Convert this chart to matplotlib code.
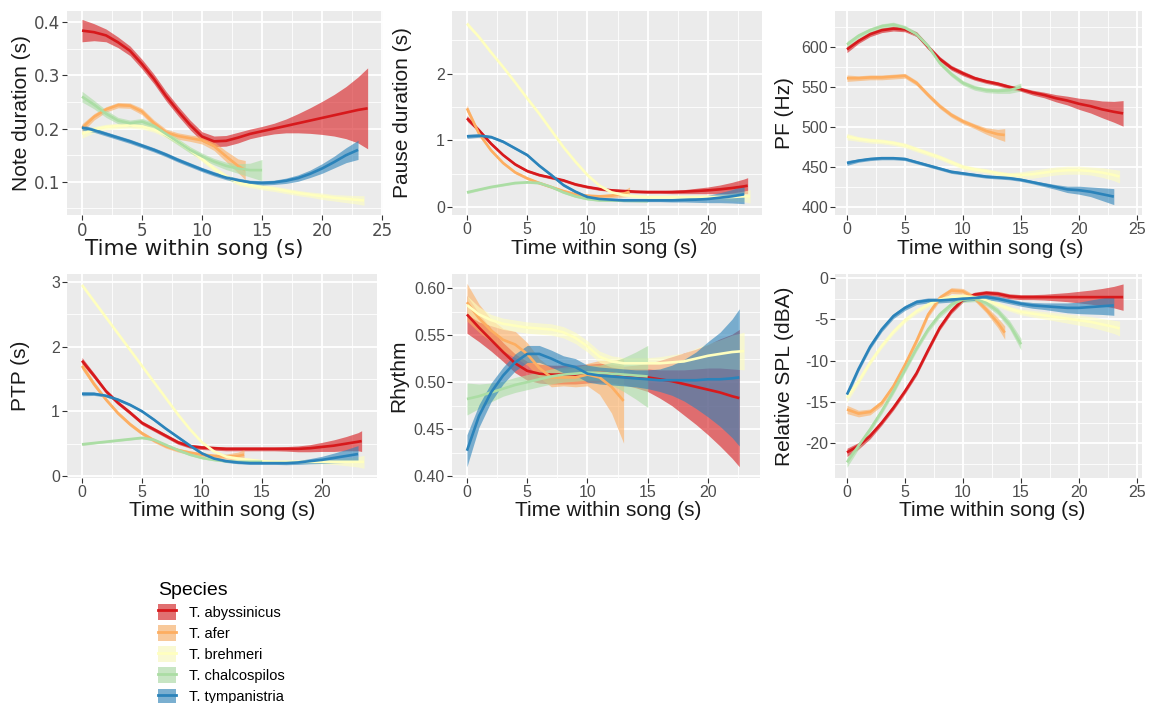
import matplotlib
matplotlib.use("Agg")
import matplotlib.pyplot as plt
from matplotlib.patches import Patch
from matplotlib.lines import Line2D
from matplotlib.legend_handler import HandlerTuple
from matplotlib.ticker import MultipleLocator, FixedLocator
import numpy as np

plt.rcParams["font.family"] = ["Liberation Sans", "DejaVu Sans"]
plt.rcParams["axes.unicode_minus"] = False

SPECIES = ["T. abyssinicus", "T. afer", "T. brehmeri", "T. chalcospilos", "T. tympanistria"]
COLORS = ["#D7191C", "#FDAE61", "#FFFFBF", "#ABDDA4", "#2B83BA"]

# time grids (s) at which the smooths were read
T_ABY = list(range(24)) + [23.8]
T_ABY_GAP = list(range(24)) + [23.3]
T_ABY_RHY = list(range(23)) + [22.6]
T_AFE = list(range(14)) + [13.6]
T_AFE_GAP = list(range(14)) + [13.5]
T_AFE_RHY = list(range(14))
T_BRE = list(range(24)) + [23.5]
T_BRE_RHY = list(range(24))
T_CHA = list(range(16))
T_TYM = list(range(24))
T_TYM_RHY = list(range(23)) + [22.6]

# --- Note duration (s): fit, half-width of CI
NOTE_ABY = [0.384, 0.381, 0.375, 0.362, 0.346, 0.321, 0.293, 0.261, 0.233, 0.207, 0.185, 0.176, 0.177,
            0.183, 0.19, 0.195, 0.2, 0.205, 0.21, 0.215, 0.22, 0.225, 0.23, 0.235, 0.238]
NOTE_ABY_CI = [0.021, 0.016, 0.012, 0.01, 0.009, 0.009, 0.009, 0.009, 0.009, 0.009, 0.009, 0.01, 0.01,
               0.01, 0.009, 0.009, 0.01, 0.013, 0.018, 0.024, 0.031, 0.039, 0.049, 0.062, 0.076]
NOTE_AFE = [0.201, 0.222, 0.236, 0.244, 0.243, 0.232, 0.21, 0.193, 0.186, 0.182, 0.178, 0.167, 0.148, 0.13, 0.122]
NOTE_AFE_CI = [0.008, 0.006, 0.005, 0.005, 0.005, 0.006, 0.006, 0.006, 0.006, 0.006, 0.007, 0.008, 0.01, 0.013, 0.018]
NOTE_BRE = [0.19, 0.198, 0.203, 0.205, 0.206, 0.204, 0.198, 0.188, 0.175, 0.16, 0.143, 0.125, 0.11,
            0.099, 0.094, 0.09, 0.087, 0.083, 0.079, 0.076, 0.073, 0.07, 0.068, 0.066, 0.065]
NOTE_BRE_CI = [0.008, 0.006, 0.005, 0.005, 0.005, 0.005, 0.005, 0.005, 0.005, 0.005, 0.005, 0.005, 0.005,
               0.005, 0.005, 0.005, 0.005, 0.005, 0.005, 0.005, 0.006, 0.006, 0.007, 0.008, 0.009]
NOTE_CHA = [0.26, 0.245, 0.228, 0.215, 0.21, 0.213, 0.205, 0.19, 0.175, 0.16, 0.148, 0.138, 0.13, 0.125, 0.122, 0.122]
NOTE_CHA_CI = [0.01, 0.008, 0.007, 0.006, 0.006, 0.006, 0.006, 0.006, 0.006, 0.006, 0.006, 0.006, 0.007, 0.009, 0.013, 0.02]
NOTE_TYM = [0.202, 0.197, 0.19, 0.183, 0.176, 0.168, 0.16, 0.151, 0.141, 0.132, 0.123, 0.115, 0.108,
            0.103, 0.099, 0.098, 0.099, 0.102, 0.107, 0.115, 0.125, 0.137, 0.15, 0.16]
NOTE_TYM_CI = [0.005, 0.004, 0.004, 0.004, 0.004, 0.004, 0.004, 0.004, 0.004, 0.004, 0.004, 0.004, 0.004,
               0.004, 0.004, 0.004, 0.004, 0.005, 0.006, 0.007, 0.009, 0.011, 0.014, 0.018]

# --- Pause duration (s)
PAUSE_ABY = [1.33, 1.15, 0.95, 0.78, 0.64, 0.54, 0.48, 0.44, 0.4, 0.34, 0.3, 0.27, 0.25, 0.24, 0.23,
             0.225, 0.225, 0.225, 0.23, 0.24, 0.25, 0.265, 0.285, 0.31, 0.32]
PAUSE_ABY_CI = [0.04, 0.03, 0.025, 0.02, 0.02, 0.02, 0.02, 0.02, 0.02, 0.02, 0.02, 0.02, 0.02, 0.02, 0.02,
                0.02, 0.02, 0.025, 0.03, 0.04, 0.05, 0.065, 0.085, 0.11, 0.12]
PAUSE_AFE = [1.48, 1.1, 0.85, 0.66, 0.52, 0.43, 0.36, 0.3, 0.24, 0.19, 0.17, 0.16, 0.17, 0.2, 0.23]
PAUSE_AFE_CI = [0.05, 0.03, 0.025, 0.02, 0.02, 0.02, 0.02, 0.02, 0.02, 0.02, 0.02, 0.02, 0.03, 0.05, 0.07]
PAUSE_BRE = [2.75, 2.55, 2.32, 2.1, 1.87, 1.63, 1.4, 1.15, 0.9, 0.68, 0.48, 0.32, 0.22, 0.18, 0.16,
             0.15, 0.15, 0.15, 0.15, 0.15, 0.15, 0.15, 0.15, 0.16, 0.16]
PAUSE_BRE_CI = [0.03, 0.02, 0.02, 0.02, 0.02, 0.02, 0.02, 0.02, 0.02, 0.02, 0.02, 0.02, 0.02, 0.02, 0.02,
                0.02, 0.02, 0.02, 0.02, 0.025, 0.03, 0.04, 0.06, 0.08, 0.1]
PAUSE_CHA = [0.22, 0.26, 0.3, 0.33, 0.36, 0.37, 0.36, 0.3, 0.22, 0.16, 0.12, 0.1, 0.1, 0.1, 0.1, 0.1]
PAUSE_CHA_CI = [0.02, 0.015, 0.015, 0.015, 0.015, 0.015, 0.015, 0.015, 0.015, 0.015, 0.015, 0.015, 0.015, 0.02, 0.025, 0.03]
PAUSE_TYM = [1.06, 1.07, 1.05, 0.98, 0.88, 0.78, 0.62, 0.48, 0.33, 0.23, 0.15, 0.12, 0.11, 0.1, 0.1,
             0.1, 0.1, 0.1, 0.105, 0.11, 0.12, 0.14, 0.16, 0.19]
PAUSE_TYM_CI = [0.03, 0.025, 0.02, 0.02, 0.02, 0.02, 0.02, 0.02, 0.02, 0.02, 0.02, 0.02, 0.02, 0.02, 0.02,
                0.02, 0.02, 0.025, 0.03, 0.04, 0.055, 0.075, 0.1, 0.14]

# --- PF (Hz)
PF_ABY = [597, 607.5, 616, 621, 623, 622, 616, 600, 585, 574, 567, 561, 557, 554, 550, 547, 543, 540,
          536, 533, 529, 526, 522, 519, 517]
PF_ABY_CI = [4, 3, 3, 3, 3, 3, 3, 3, 3, 3, 3, 2.5, 2.5, 2.5, 2.5, 2.5, 3, 3.5, 4.5, 5.5, 7, 8.5, 10.5, 13, 16]
PF_AFE = [561, 561, 562, 562, 563, 564, 555, 540, 526, 515, 507, 501, 495, 491, 490]
PF_AFE_CI = [4, 3, 3, 3, 3, 3, 3, 3, 3, 3, 3, 3, 4, 6, 8]
PF_BRE = [488, 485, 483, 482, 480, 477, 472, 467, 462, 456, 450, 447, 445, 442, 440, 440, 441, 443,
          445, 446, 446, 445, 443, 440, 438]
PF_BRE_CI = [4, 3, 3, 3, 3, 3, 3, 3, 3, 3, 3, 3, 3, 3, 3, 4, 5, 5, 5, 5, 5, 5, 6, 7, 8]
PF_CHA = [603, 614, 621, 626, 628, 624, 616, 601, 580, 566, 555, 549, 546, 545, 546, 550]
PF_CHA_CI = [4, 3, 3, 3, 3, 3, 3, 3, 3, 3, 3, 3, 3, 3, 4, 5]
PF_TYM = [455, 458, 460, 461, 461, 460, 456, 452, 448, 444, 442, 440, 438, 437, 436, 434, 431, 428,
          425, 422, 421, 419, 416, 413]
PF_TYM_CI = [3, 2, 2, 2, 2, 2, 2, 2, 2, 2, 2, 2, 2, 2, 2, 2, 2, 2.5, 3, 4, 5, 6, 8, 10]

# --- PTP (s)
PTP_ABY = [1.78, 1.55, 1.31, 1.13, 0.98, 0.82, 0.72, 0.62, 0.52, 0.46, 0.44, 0.43, 0.42, 0.42, 0.42,
           0.42, 0.42, 0.42, 0.42, 0.43, 0.45, 0.47, 0.5, 0.53, 0.54]
PTP_ABY_CI = [0.05, 0.04, 0.03, 0.03, 0.03, 0.03, 0.03, 0.03, 0.03, 0.03, 0.03, 0.03, 0.03, 0.03, 0.03,
              0.03, 0.03, 0.035, 0.045, 0.055, 0.07, 0.09, 0.11, 0.14, 0.16]
PTP_AFE = [1.7, 1.42, 1.18, 0.97, 0.8, 0.66, 0.55, 0.46, 0.4, 0.36, 0.33, 0.31, 0.3, 0.31, 0.33]
PTP_AFE_CI = [0.05, 0.04, 0.03, 0.03, 0.03, 0.03, 0.03, 0.03, 0.03, 0.03, 0.03, 0.03, 0.04, 0.06, 0.08]
PTP_BRE = [2.95, 2.7, 2.45, 2.2, 1.95, 1.7, 1.45, 1.2, 0.95, 0.72, 0.52, 0.38, 0.3, 0.27, 0.25,
           0.23, 0.22, 0.22, 0.22, 0.22, 0.22, 0.22, 0.22, 0.22, 0.22]
PTP_BRE_CI = [0.03, 0.02, 0.02, 0.02, 0.02, 0.02, 0.02, 0.02, 0.02, 0.02, 0.02, 0.02, 0.02, 0.02, 0.02,
              0.02, 0.02, 0.02, 0.02, 0.025, 0.03, 0.04, 0.06, 0.08, 0.1]
PTP_CHA = [0.49, 0.51, 0.53, 0.55, 0.57, 0.59, 0.56, 0.48, 0.4, 0.33, 0.28, 0.25, 0.23, 0.22, 0.22, 0.22]
PTP_CHA_CI = [0.02, 0.015, 0.015, 0.015, 0.015, 0.015, 0.015, 0.015, 0.015, 0.015, 0.015, 0.015, 0.015, 0.02, 0.025, 0.03]
PTP_TYM = [1.27, 1.27, 1.24, 1.18, 1.1, 1.0, 0.87, 0.73, 0.6, 0.47, 0.35, 0.27, 0.23, 0.21, 0.2,
           0.2, 0.2, 0.2, 0.21, 0.23, 0.25, 0.28, 0.31, 0.34]
PTP_TYM_CI = [0.03, 0.025, 0.02, 0.02, 0.02, 0.02, 0.02, 0.02, 0.02, 0.02, 0.02, 0.02, 0.02, 0.02, 0.02,
              0.02, 0.02, 0.025, 0.03, 0.04, 0.055, 0.075, 0.1, 0.13]

# --- Rhythm
RHY_ABY = [0.572, 0.558, 0.545, 0.532, 0.52, 0.512, 0.509, 0.508, 0.508, 0.508, 0.509, 0.51, 0.509,
           0.507, 0.506, 0.505, 0.503, 0.501, 0.498, 0.495, 0.492, 0.489, 0.485, 0.483]
RHY_ABY_CI = [0.02, 0.015, 0.012, 0.01, 0.01, 0.01, 0.01, 0.01, 0.01, 0.01, 0.01, 0.01, 0.01, 0.01,
              0.012, 0.015, 0.02, 0.026, 0.033, 0.04, 0.048, 0.057, 0.066, 0.073]
RHY_AFE = [0.585, 0.568, 0.555, 0.545, 0.54, 0.53, 0.515, 0.505, 0.505, 0.505, 0.508, 0.505, 0.495, 0.48]
RHY_AFE_CI = [0.02, 0.015, 0.012, 0.012, 0.014, 0.012, 0.01, 0.01, 0.009, 0.01, 0.012, 0.018, 0.028, 0.045]
RHY_BRE = [0.582, 0.572, 0.566, 0.562, 0.56, 0.558, 0.557, 0.556, 0.553, 0.547, 0.538, 0.527, 0.522,
           0.52, 0.52, 0.52, 0.52, 0.521, 0.522, 0.525, 0.528, 0.53, 0.532, 0.533]
RHY_BRE_CI = [0.01, 0.008, 0.006, 0.006, 0.006, 0.006, 0.006, 0.006, 0.006, 0.006, 0.006, 0.006, 0.006,
              0.006, 0.006, 0.006, 0.007, 0.008, 0.009, 0.011, 0.013, 0.015, 0.018, 0.02]
RHY_CHA = [0.482, 0.485, 0.489, 0.493, 0.497, 0.5, 0.503, 0.506, 0.508, 0.509, 0.51, 0.51, 0.509, 0.508, 0.507, 0.506]
RHY_CHA_CI = [0.017, 0.013, 0.01, 0.008, 0.008, 0.008, 0.008, 0.008, 0.008, 0.008, 0.008, 0.008, 0.012, 0.018, 0.025, 0.033]
RHY_TYM = [0.427, 0.464, 0.489, 0.507, 0.521, 0.53, 0.53, 0.525, 0.519, 0.516, 0.509, 0.507, 0.506,
           0.505, 0.504, 0.503, 0.502, 0.502, 0.502, 0.502, 0.503, 0.503, 0.504, 0.505]
RHY_TYM_CI = [0.017, 0.012, 0.01, 0.009, 0.009, 0.009, 0.009, 0.009, 0.009, 0.009, 0.009, 0.009, 0.009,
              0.009, 0.009, 0.01, 0.012, 0.016, 0.022, 0.03, 0.04, 0.05, 0.063, 0.073]

# --- Relative SPL (dBA)
SPL_ABY = [-21.1, -20.3, -19.1, -17.5, -15.7, -13.7, -11.5, -8.7, -6.0, -4.0, -2.6, -2.0, -1.8, -1.9,
           -2.2, -2.3, -2.3, -2.3, -2.3, -2.3, -2.3, -2.3, -2.3, -2.3, -2.3]
SPL_ABY_CI = [0.5, 0.4, 0.35, 0.3, 0.3, 0.3, 0.3, 0.3, 0.3, 0.3, 0.3, 0.3, 0.3, 0.3, 0.3, 0.3, 0.3,
              0.35, 0.45, 0.55, 0.7, 0.85, 1.05, 1.3, 1.6]
SPL_AFE = [-15.9, -16.4, -16.2, -15.1, -13.1, -10.5, -7.6, -4.4, -2.4, -1.5, -1.6, -2.4, -3.8, -5.4, -6.6]
SPL_AFE_CI = [0.5, 0.4, 0.35, 0.35, 0.35, 0.35, 0.35, 0.35, 0.35, 0.35, 0.35, 0.35, 0.4, 0.6, 0.8]
SPL_BRE = [-14.5, -12.5, -10.2, -8.2, -6.5, -5.1, -4.0, -3.2, -2.6, -2.3, -2.2, -2.3, -2.7, -3.2,
           -3.7, -4.1, -4.3, -4.5, -4.7, -4.9, -5.1, -5.3, -5.6, -5.9, -6.1]
SPL_BRE_CI = [0.5, 0.35, 0.3, 0.3, 0.3, 0.3, 0.3, 0.3, 0.3, 0.3, 0.3, 0.3, 0.3, 0.3, 0.3, 0.35, 0.4,
              0.45, 0.5, 0.55, 0.6, 0.65, 0.7, 0.8, 0.9]
SPL_CHA = [-22.3, -20.3, -18.3, -16.1, -13.7, -11.1, -8.5, -6.2, -4.4, -3.2, -2.6, -2.5, -3.0, -4.0, -5.6, -8.0]
SPL_CHA_CI = [0.6, 0.4, 0.35, 0.35, 0.35, 0.35, 0.35, 0.35, 0.35, 0.35, 0.35, 0.35, 0.35, 0.4, 0.5, 0.7]
SPL_TYM = [-14.1, -11.0, -8.3, -6.2, -4.6, -3.6, -2.9, -2.7, -2.7, -2.6, -2.5, -2.4, -2.3, -2.5, -2.8,
           -3.1, -3.3, -3.4, -3.5, -3.6, -3.6, -3.5, -3.4, -3.3]
SPL_TYM_CI = [0.4, 0.3, 0.3, 0.3, 0.3, 0.3, 0.3, 0.3, 0.3, 0.3, 0.3, 0.3, 0.3, 0.3, 0.3, 0.3, 0.35,
              0.4, 0.5, 0.6, 0.7, 0.85, 1.0, 1.2]

W, H = 1161, 703
BG = "#EBEBEB"


def px_box(l, t, r, b):
    return [l / W, 1 - b / H, (r - l) / W, (b - t) / H]


def frac(b, cx):
    return (cx - b[0]) / (b[2] - b[0])


def draw_panel(ax, box, series, ylabel, xlim, ylim, yticks, ylabels, ymin, ylab_cx, xlab_cx, xlab_cy,
               tick_font="Liberation Sans", tick_size=11.5, xlab_font="Liberation Sans", xlab_size=15):
    ax.set_facecolor(BG)
    for t, y, ci, c in series:
        t = np.asarray(t, float)
        y = np.asarray(y, float)
        ci = np.asarray(ci, float)
        ax.fill_between(t, y - ci, y + ci, color=c, alpha=0.6, lw=0, zorder=2)
        ax.plot(t, y, color=c, lw=1.9, zorder=3, solid_capstyle="butt")
    ax.set_xlim(*xlim)
    ax.set_ylim(*ylim)
    xt = [v for v in [0, 5, 10, 15, 20, 25] if v <= xlim[1]]
    ax.xaxis.set_major_locator(FixedLocator(xt))
    ax.xaxis.set_minor_locator(MultipleLocator(2.5))
    ax.set_yticks(yticks)
    ax.set_yticklabels(ylabels)
    ax.yaxis.set_minor_locator(MultipleLocator(ymin))
    ax.grid(which="major", color="white", lw=1.3, zorder=0)
    ax.grid(which="minor", color="white", lw=0.6, zorder=0)
    ax.set_axisbelow(True)
    for s in ax.spines.values():
        s.set_visible(False)
    ax.tick_params(which="major", length=3.5, width=0.8, color="#333333", pad=1.5,
                   labelsize=tick_size, labelcolor="#4D4D4D")
    ax.tick_params(which="minor", length=0)
    for lab in ax.get_xticklabels() + ax.get_yticklabels():
        lab.set_fontfamily(tick_font)
    ax.set_ylabel(ylabel, fontsize=15, color="#1A1A1A")
    ax.yaxis.label.set_verticalalignment("center")
    ax.yaxis.set_label_coords(frac(box, ylab_cx), 0.5)
    ax.set_xlabel("Time within song (s)", fontsize=xlab_size, color="#1A1A1A", fontfamily=xlab_font)
    ax.xaxis.label.set_verticalalignment("center")
    ax.xaxis.set_label_coords(frac(box, xlab_cx), -(xlab_cy - box[3]) / (box[3] - box[1]))


fig = plt.figure(figsize=(W / 100, H / 100), dpi=100)

boxes = [(67, 11, 383, 215), (452, 11, 762, 215), (835, 11, 1142, 215),
         (67, 274, 377, 478), (452, 274, 760, 478), (835, 274, 1142, 478)]
axs = [fig.add_axes(px_box(*b)) for b in boxes]

draw_panel(axs[0], boxes[0],
           [(T_ABY, NOTE_ABY, NOTE_ABY_CI, COLORS[0]), (T_AFE, NOTE_AFE, NOTE_AFE_CI, COLORS[1]),
            (T_BRE, NOTE_BRE, NOTE_BRE_CI, COLORS[2]), (T_CHA, NOTE_CHA, NOTE_CHA_CI, COLORS[3]),
            (T_TYM, NOTE_TYM, NOTE_TYM_CI, COLORS[4])],
           "Note duration (s)", (-1.25, 25.08), (0.0377, 0.4208), [0.1, 0.2, 0.3, 0.4],
           ["0.1", "0.2", "0.3", "0.4"], 0.05, 22, 194, 249,
           tick_font="DejaVu Sans", tick_size=12, xlab_font="DejaVu Sans", xlab_size=15.5)
draw_panel(axs[1], boxes[1],
           [(T_ABY_GAP, PAUSE_ABY, PAUSE_ABY_CI, COLORS[0]), (T_AFE_GAP, PAUSE_AFE, PAUSE_AFE_CI, COLORS[1]),
            (T_BRE, PAUSE_BRE, PAUSE_BRE_CI, COLORS[2]), (T_CHA, PAUSE_CHA, PAUSE_CHA_CI, COLORS[3]),
            (T_TYM, PAUSE_TYM, PAUSE_TYM_CI, COLORS[4])],
           "Pause duration (s)", (-1.24, 24.49), (-0.12, 2.94), [0, 1, 2], ["0", "1", "2"], 0.5,
           402, 604, 249)
draw_panel(axs[2], boxes[2],
           [(T_ABY, PF_ABY, PF_ABY_CI, COLORS[0]), (T_AFE, PF_AFE, PF_AFE_CI, COLORS[1]),
            (T_BRE, PF_BRE, PF_BRE_CI, COLORS[2]), (T_CHA, PF_CHA, PF_CHA_CI, COLORS[3]),
            (T_TYM, PF_TYM, PF_TYM_CI, COLORS[4])],
           "PF (Hz)", (-1.03, 25.43), (390, 645), [400, 450, 500, 550, 600],
           ["400", "450", "500", "550", "600"], 25, 784, 990, 249)
draw_panel(axs[3], boxes[3],
           [(T_ABY_GAP, PTP_ABY, PTP_ABY_CI, COLORS[0]), (T_AFE_GAP, PTP_AFE, PTP_AFE_CI, COLORS[1]),
            (T_BRE, PTP_BRE, PTP_BRE_CI, COLORS[2]), (T_CHA, PTP_CHA, PTP_CHA_CI, COLORS[3]),
            (T_TYM, PTP_TYM, PTP_TYM_CI, COLORS[4])],
           "PTP (s)", (-1.25, 24.58), (-0.03, 3.12), [0, 1, 2, 3], ["0", "1", "2", "3"], 0.5,
           21, 222, 510)
draw_panel(axs[4], boxes[4],
           [(T_ABY_RHY, RHY_ABY, RHY_ABY_CI, COLORS[0]), (T_AFE_RHY, RHY_AFE, RHY_AFE_CI, COLORS[1]),
            (T_BRE_RHY, RHY_BRE, RHY_BRE_CI, COLORS[2]), (T_CHA, RHY_CHA, RHY_CHA_CI, COLORS[3]),
            (T_TYM_RHY, RHY_TYM, RHY_TYM_CI, COLORS[4])],
           "Rhythm", (-1.24, 24.32), (0.398, 0.615), [0.40, 0.45, 0.50, 0.55, 0.60],
           ["0.40", "0.45", "0.50", "0.55", "0.60"], 0.025, 399, 608, 510)
draw_panel(axs[5], boxes[5],
           [(T_ABY, SPL_ABY, SPL_ABY_CI, COLORS[0]), (T_AFE, SPL_AFE, SPL_AFE_CI, COLORS[1]),
            (T_BRE, SPL_BRE, SPL_BRE_CI, COLORS[2]), (T_CHA, SPL_CHA, SPL_CHA_CI, COLORS[3]),
            (T_TYM, SPL_TYM, SPL_TYM_CI, COLORS[4])],
           "Relative SPL (dBA)", (-1.03, 25.43), (-24.2, 0.5), [-20, -15, -10, -5, 0],
           ["-20", "-15", "-10", "-5", "0"], 2.5, 785, 992, 510)

# legend (ggplot style keys: grey95 background, ribbon fill, line)
handles = [(Patch(facecolor="#F2F2F2", edgecolor="none"),
            Patch(facecolor=c, alpha=0.6, edgecolor="none"),
            Line2D([], [], color=c, lw=2)) for c in COLORS]
fig.legend(handles, SPECIES, loc="upper left", bbox_to_anchor=(149 / W, 1 - 573 / H),
           frameon=False, title="Species", alignment="left", fontsize=10.5, title_fontsize=14,
           handlelength=1.25, handleheight=1.3, labelspacing=0.36, handletextpad=0.9,
           borderpad=0.6, borderaxespad=0,
           handler_map={tuple: HandlerTuple(ndivide=1, pad=0)})
fig.savefig("out.png", dpi=100)
